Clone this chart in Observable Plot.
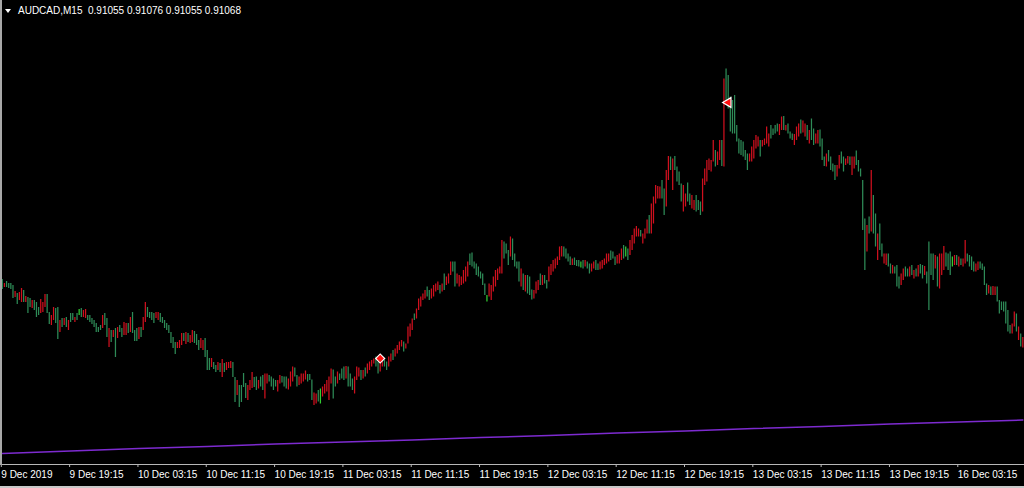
<!DOCTYPE html>
<html><head><meta charset="utf-8">
<script src="https://cdn.jsdelivr.net/npm/d3@7"></script>
<script src="https://cdn.jsdelivr.net/npm/@observablehq/plot@0.6"></script>
<style>
html,body{margin:0;padding:0;background:#000;}
#wrap{position:relative;width:1024px;height:488px;overflow:hidden;background:#000;}
#title{position:absolute;left:18px;top:5px;color:#fff;font:10px "Liberation Sans",Arial,sans-serif;line-height:12px;white-space:pre;}
#tri{position:absolute;left:5px;top:9px;width:0;height:0;border-left:3px solid transparent;border-right:3px solid transparent;border-top:4px solid #fff;}
#lborder{position:absolute;left:0;top:0;width:2px;height:465px;background:#a8a8a8;}
#bborder{position:absolute;left:0;top:486px;width:1024px;height:2px;background:#c8c8c8;}
</style></head><body>
<div id="wrap"><div id="chart"></div><div id="tri"></div><div id="title"></div><div id="lborder"></div><div id="bborder"></div></div>
<script>
const symbolName = "AUDCAD,M15";
const lastOHLC = ["0.91055", "0.91076", "0.91055", "0.91068"];
const tickLabels = ["9 Dec 2019","9 Dec 19:15","10 Dec 03:15","10 Dec 11:15","10 Dec 19:15","11 Dec 03:15","11 Dec 11:15","11 Dec 19:15","12 Dec 03:15","12 Dec 11:15","12 Dec 19:15","13 Dec 03:15","13 Dec 11:15","13 Dec 19:15","16 Dec 03:15"];
const barsPerTick = 32;

const highs = [
0.91192,0.91184,0.91188,0.91184,0.91184, 0.91180,0.91168,0.91164,0.91166,0.91174,
0.91170,0.91158,0.91156,0.91154,0.91150, 0.91150,0.91146,0.91136,0.91152,0.91146,
0.91162,0.91162,0.91126,0.91120, 0.91136,0.91134,0.91136,0.91110,0.91114,
0.91114,0.91116,0.91110,0.91124,0.91124, 0.91116,0.91124,0.91132,0.91134,0.91130,
0.91132,0.91120,0.91120,0.91114,0.91110, 0.91104,0.91096,0.91100,0.91120,0.91124,
0.91114,0.91094,0.91090,0.91090,0.91094, 0.91096,0.91100,0.91094,0.91106,0.91104,
0.91104,0.91116,0.91126,0.91090,0.91094, 0.91096,0.91096,0.91116,0.91146,0.91136,
0.91126,0.91126,0.91124,0.91126,0.91126, 0.91124,0.91116,0.91110,0.91104,0.91100,
0.91086,0.91076,0.91066,0.91066,0.91070, 0.91084,0.91084,0.91086,0.91084,0.91080,
0.91090,0.91088,0.91082,0.91070,0.91074, 0.91070,0.91074,0.91050,0.91034,0.91034,
0.91026,0.91020,0.91026,0.91024,0.91032, 0.91024,0.91026,0.91026,0.91028,0.91026,
0.90996,0.90990,0.90980,0.90980,0.91004, 0.90984,0.90980,0.90990,0.91006,0.90996,
0.90997,0.90990,0.90997,0.91000,0.91003, 0.91003,0.91000,0.90997,0.90993,0.90990,
0.90990,0.91000,0.90998,0.90997,0.90997, 0.90993,0.91007,0.91017,0.91015,0.91000,
0.90997,0.91003,0.91003,0.91009,0.91002, 0.91002,0.90991,0.90965,0.90963,0.90970,
0.90973,0.90977,0.90982,0.90990,0.90997, 0.91013,0.91011,0.90997,0.91007,0.91003,
0.91013,0.91017,0.91018,0.91017,0.91003, 0.90993,0.90997,0.91017,0.91015,0.91010,
0.91010,0.91015,0.91023,0.91027,0.91030, 0.91033,0.91037,0.91027,0.91030,0.91033,
0.91030,0.91027,0.91037,0.91043,0.91050, 0.91053,0.91060,0.91067,0.91070,0.91067,
0.91063,0.91097,0.91103,0.91113,0.91123, 0.91133,0.91153,0.91157,0.91163,0.91170,
0.91177,0.91170,0.91173,0.91180,0.91183, 0.91187,0.91180,0.91183,0.91203,0.91197,
0.91203,0.91227,0.91227,0.91227,0.91203, 0.91200,0.91197,0.91210,0.91217,0.91227,
0.91243,0.91245,0.91227,0.91223,0.91217, 0.91207,0.91203,0.91183,0.91160,0.91183,
0.91180,0.91197,0.91210,0.91213,0.91217, 0.91270,0.91267,0.91263,0.91250,0.91277,
0.91273,0.91243,0.91227,0.91227,0.91213, 0.91203,0.91200,0.91200,0.91197,0.91171,
0.91170,0.91187,0.91190,0.91203,0.91200, 0.91200,0.91190,0.91217,0.91222,0.91230,
0.91233,0.91237,0.91257,0.91258,0.91257, 0.91253,0.91243,0.91237,0.91233,0.91235,
0.91230,0.91230,0.91227,0.91230,0.91230, 0.91227,0.91223,0.91223,0.91227,0.91230,
0.91223,0.91227,0.91230,0.91233,0.91243, 0.91243,0.91249,0.91247,0.91237,0.91240,
0.91243,0.91253,0.91260,0.91257,0.91253, 0.91270,0.91280,0.91293,0.91298,0.91293,
0.91290,0.91283,0.91293,0.91311,0.91320, 0.91343,0.91357,0.91380,0.91378,0.91377,
0.91390,0.91373,0.91410,0.91438,0.91437, 0.91433,0.91438,0.91417,0.91407,0.91383,
0.91380,0.91363,0.91385,0.91363,0.91360, 0.91350,0.91360,0.91350,0.91347,0.91393,
0.91413,0.91430,0.91433,0.91430,0.91470, 0.91450,0.91447,0.91470,0.91470,0.91593,
0.91613,0.91600,0.91557,0.91550,0.91560, 0.91500,0.91473,0.91470,0.91467,0.91450,
0.91443,0.91443,0.91457,0.91470,0.91480, 0.91477,0.91470,0.91470,0.91473,0.91497,
0.91483,0.91500,0.91493,0.91500,0.91503, 0.91502,0.91517,0.91518,0.91500,0.91503,
0.91487,0.91483,0.91482,0.91497,0.91503, 0.91511,0.91509,0.91503,0.91500,0.91490,
0.91513,0.91493,0.91483,0.91490,0.91491, 0.91473,0.91437,0.91443,0.91450,0.91437,
0.91423,0.91420,0.91420,0.91440,0.91447, 0.91437,0.91433,0.91438,0.91437,0.91437,
0.91437,0.91449,0.91430,0.91413,0.91390, 0.91313,0.91300,0.91317,0.91410,0.91360,
0.91323,0.91283,0.91303,0.91263,0.91243, 0.91243,0.91243,0.91223,0.91220,0.91217,
0.91220,0.91197,0.91203,0.91213,0.91217, 0.91213,0.91217,0.91220,0.91210,0.91213,
0.91220,0.91222,0.91220,0.91218,0.91207, 0.91267,0.91243,0.91243,0.91240,0.91237,
0.91243,0.91243,0.91258,0.91245,0.91243, 0.91247,0.91237,0.91240,0.91240,0.91237,
0.91233,0.91233,0.91270,0.91243,0.91240, 0.91237,0.91227,0.91223,0.91227,0.91227,
0.91223,0.91217,0.91183,0.91180,0.91177, 0.91178,0.91177,0.91177,0.91150,0.91147,
0.91147,0.91147,0.91130,0.91100,0.91103, 0.91127,0.91123,0.91097,0.91083,0.91076
];

const lows = [
0.91172,0.91176,0.91176,0.91174,0.91172, 0.91154,0.91156,0.91142,0.91150,0.91146,
0.91146,0.91146,0.91124,0.91136,0.91134, 0.91130,0.91116,0.91120,0.91124,0.91126,
0.91136,0.91124,0.91102,0.91100, 0.91110,0.91104,0.91072,0.91086,0.91096,
0.91100,0.91096,0.91090,0.91106,0.91110, 0.91106,0.91110,0.91120,0.91116,0.91116,
0.91114,0.91110,0.91106,0.91102,0.91096, 0.91086,0.91086,0.91090,0.91094,0.91100,
0.91076,0.91056,0.91066,0.91076,0.91036, 0.91074,0.91086,0.91076,0.91080,0.91080,
0.91084,0.91086,0.91084,0.91068,0.91068, 0.91072,0.91076,0.91090,0.91106,0.91116,
0.91114,0.91110,0.91104,0.91114,0.91110, 0.91106,0.91104,0.91094,0.91090,0.91084,
0.91064,0.91054,0.91042,0.91054,0.91054, 0.91060,0.91068,0.91062,0.91066,0.91064,
0.91066,0.91064,0.91060,0.91050,0.91054, 0.91050,0.91036,0.91010,0.91010,0.91016,
0.91012,0.91006,0.91010,0.91006,0.90996, 0.91006,0.91010,0.91014,0.91014,0.90996,
0.90946,0.90960,0.90936,0.90946,0.90976, 0.90954,0.90950,0.90970,0.90974,0.90976,
0.90970,0.90973,0.90977,0.90970,0.90953, 0.90983,0.90987,0.90977,0.90970,0.90977,
0.90967,0.90983,0.90985,0.90977,0.90973, 0.90971,0.90977,0.90987,0.90997,0.90977,
0.90980,0.90983,0.90987,0.90991,0.90987, 0.90990,0.90950,0.90940,0.90943,0.90947,
0.90943,0.90957,0.90963,0.90967,0.90950, 0.90983,0.90953,0.90977,0.90983,0.90990,
0.90993,0.90990,0.90993,0.90977,0.90977, 0.90970,0.90963,0.90990,0.90997,0.90990,
0.90993,0.90997,0.91003,0.91010,0.91017, 0.91023,0.91017,0.91003,0.91007,0.91017,
0.91017,0.91010,0.91017,0.91027,0.91030, 0.91037,0.91043,0.91050,0.91057,0.91047,
0.91053,0.91063,0.91077,0.91090,0.91110, 0.91113,0.91130,0.91137,0.91150,0.91153,
0.91157,0.91150,0.91153,0.91157,0.91167, 0.91170,0.91163,0.91167,0.91170,0.91180,
0.91183,0.91200,0.91207,0.91177,0.91183, 0.91177,0.91180,0.91183,0.91187,0.91197,
0.91220,0.91217,0.91213,0.91200,0.91197, 0.91193,0.91180,0.91160,0.91147,0.91157,
0.91150,0.91167,0.91177,0.91190,0.91203, 0.91203,0.91233,0.91243,0.91220,0.91237,
0.91230,0.91217,0.91213,0.91187,0.91177, 0.91170,0.91167,0.91163,0.91160,0.91151,
0.91153,0.91163,0.91170,0.91180,0.91180, 0.91183,0.91173,0.91187,0.91200,0.91207,
0.91213,0.91220,0.91230,0.91237,0.91237, 0.91233,0.91227,0.91220,0.91220,0.91220,
0.91218,0.91217,0.91215,0.91213,0.91217, 0.91213,0.91203,0.91207,0.91213,0.91210,
0.91210,0.91211,0.91213,0.91220,0.91223, 0.91227,0.91230,0.91233,0.91220,0.91223,
0.91223,0.91230,0.91233,0.91237,0.91230, 0.91240,0.91250,0.91263,0.91277,0.91277,
0.91277,0.91263,0.91273,0.91283,0.91283, 0.91283,0.91303,0.91343,0.91353,0.91353,
0.91353,0.91320,0.91337,0.91390,0.91410, 0.91370,0.91410,0.91387,0.91380,0.91347,
0.91327,0.91337,0.91347,0.91340,0.91333, 0.91330,0.91327,0.91330,0.91320,0.91327,
0.91380,0.91387,0.91410,0.91407,0.91427, 0.91417,0.91420,0.91430,0.91418,0.91417,
0.91543,0.91533,0.91487,0.91483,0.91483, 0.91467,0.91443,0.91440,0.91437,0.91430,
0.91410,0.91427,0.91427,0.91433,0.91453, 0.91457,0.91437,0.91457,0.91460,0.91463,
0.91457,0.91473,0.91480,0.91483,0.91487, 0.91480,0.91490,0.91490,0.91489,0.91483,
0.91473,0.91470,0.91460,0.91470,0.91477, 0.91483,0.91485,0.91477,0.91470,0.91463,
0.91470,0.91460,0.91463,0.91463,0.91457, 0.91430,0.91418,0.91417,0.91427,0.91410,
0.91407,0.91390,0.91397,0.91413,0.91423, 0.91407,0.91420,0.91423,0.91420,0.91400,
0.91413,0.91420,0.91407,0.91397,0.91290, 0.91210,0.91247,0.91283,0.91287,0.91283,
0.91257,0.91230,0.91250,0.91237,0.91223, 0.91220,0.91217,0.91203,0.91203,0.91203,
0.91177,0.91173,0.91180,0.91190,0.91197, 0.91197,0.91197,0.91200,0.91193,0.91197,
0.91197,0.91203,0.91193,0.91200,0.91183, 0.91130,0.91200,0.91190,0.91213,0.91177,
0.91173,0.91200,0.91210,0.91217,0.91210, 0.91200,0.91217,0.91220,0.91220,0.91217,
0.91220,0.91217,0.91223,0.91227,0.91217, 0.91210,0.91207,0.91207,0.91210,0.91213,
0.91210,0.91180,0.91160,0.91163,0.91160, 0.91160,0.91160,0.91147,0.91123,0.91130,
0.91127,0.91103,0.91087,0.91083,0.91083, 0.91097,0.91087,0.91070,0.91057,0.91055
];

// bar direction per bar, in chunks: u = bullish, d = bearish, n = unchanged (open == close)
const dirSegments = [
  "duddd","duduu","duddu","ddduu","uddu","uddud","ududd","udndu","udddd","dddud","dudud","udduu",
  "duddd","uduud","ddduu","ddddd","ddduu","ududu","udddu","udddu","ddudu","duuud","duddd","duuud",
  "duddu","udddd","uuddd","uuudd","uuuud","dduud","nuuuu","uddud","ddudd","duuud","uduuu","udduu",
  "dduud","uuuud","uuuud","uuuuu","dduuu","ududu","uuddu","uuuuu","ddddd","dddnu","uuuuu","udddu",
  "ddddu","duddd","uuudu","dduuu","uuuud","dddud","ddndu","dduud","duuuu","udddu","uudnd","uuuuu",
  "duuud","uuuuu","dduud","udddd","uuddu","udddu","uuuuu","duudu","ddddd","ddddd","duuuu","uduuu",
  "udddd","uudud","dduuu","duudu","dduud","ddudd","dduud","duudu","udddd","dudud","duddu","uddud",
  "dduud","dudud","uddud","dddud","uuudd","dnudu","duudd","dduud","dddud","uuddd","ddddu","ududu"
];

// long moving average, read at every 32nd bar and at the last bar
const maBars = [0,32,64,96,128,160,192,224,256,288,320,352,384,416,448,478];
const maValues = [0.90844,0.90849,0.90854,0.90858,0.90863,0.90867,0.90871,0.90876,0.90880,0.90885,0.90889,0.90894,0.90898,0.90903,0.90907,0.90911];

// trade markers
const markerBars = [177, 340];
const markerPrices = [0.91034, 0.91546];
const markerShapes = ["square", "triangle"];
const markerRotate = [45, -90];

document.getElementById("title").textContent = symbolName + "  " + lastOHLC.join(" ");

const dirString = dirSegments.join("");
const bars = highs.map((h, i) => ({i, high: h, low: lows[i], dir: dirString[i] || "d"}));
const ma = maBars.map((b, k) => ({i: b, v: maValues[k]}));
const markers = markerBars.map((b, k) => ({i: b, p: markerPrices[k], s: markerShapes[k], r: markerRotate[k]}));
const ticks = tickLabels.map((_, k) => k * barsPerTick);
const lastIndex = highs.length - 1;

const chart = Plot.plot({
  width: 1024, height: 488,
  marginTop: 0, marginBottom: 24, marginLeft: 0, marginRight: 0,
  style: {background: "#000", color: "#fff", fontFamily: "'Liberation Sans', Arial, sans-serif", fontSize: "10px"},
  x: {domain: [0, lastIndex], range: [1.8, 1.8 + 2.135 * lastIndex]},
  y: {domain: [0.90822, 0.9175], range: [464, 0], axis: null},
  color: {domain: ["u", "d", "n"], range: ["#d0101e", "#2e8b57", "#32cd32"]},
  marks: [
    Plot.line(ma, {x: "i", y: "v", stroke: "#7d2bd0", strokeWidth: 1.5}),
    Plot.ruleX(bars, {x: "i", y1: "low", y2: "high", stroke: "dir", strokeWidth: 1.25}),
    Plot.dot(markers, {x: "i", y: "p", symbol: "s", rotate: "r", r: 3.6, fill: "#ff1010", stroke: "#fff", strokeWidth: 1.2}),
    Plot.ruleY([0.90822], {stroke: "#b8b8b8", strokeWidth: 1}),
    Plot.axisX(ticks, {tickSize: 3, tickPadding: 3, textAnchor: "start", dx: -1, stroke: "#b8b8b8", fill: "#fff", fontSize: 10, label: null, tickFormat: d => tickLabels[d / barsPerTick]})
  ]
});
document.getElementById("chart").appendChild(chart);
</script>
</body></html>
